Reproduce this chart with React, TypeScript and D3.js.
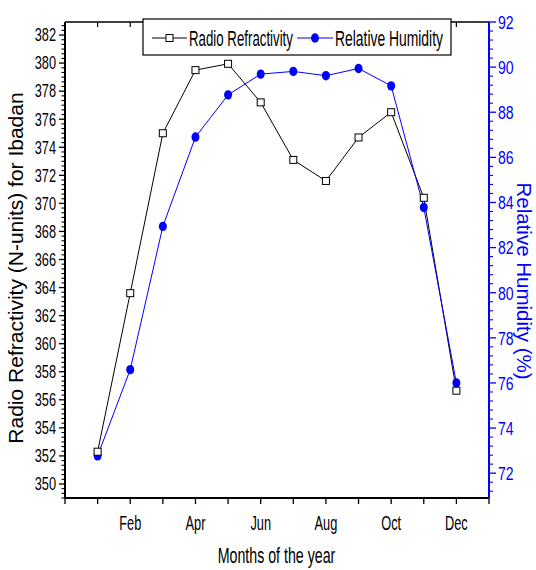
import React from "react";
import * as d3 from "d3";

const months = ["Jan", "Feb", "Mar", "Apr", "May", "Jun", "Jul", "Aug", "Sep", "Oct", "Nov", "Dec"];
const monthIndex = [1, 2, 3, 4, 5, 6, 7, 8, 9, 10, 11, 12];
const refractivity = [352.3, 363.6, 375.0, 379.5, 379.95, 377.2, 373.1, 371.6, 374.7, 376.5, 370.4, 356.65];
const humidity = [72.77, 76.59, 82.94, 86.9, 88.77, 89.69, 89.81, 89.62, 89.94, 89.17, 83.78, 76.0];
const labeledMonths = [2, 4, 6, 8, 10, 12];
const leftTicks = d3.range(350, 383, 2);
const rightTicks = d3.range(72, 93, 2);

const W = 536;
const H = 570;
const L = 65, R = 489, T = 22, B = 498;
const ARIAL = "'Liberation Sans', Arial, sans-serif";
const BLUE = "#0000ff";

function NText(props: any) {
  const { x, y, anchor = "start", size, sx = 1, fill = "#000", children } = props;
  return (
    <text
      transform={`translate(${x},${y}) scale(${sx},1)`}
      textAnchor={anchor}
      fontSize={size}
      fontFamily={ARIAL}
      fill={fill}
    >
      {children}
    </text>
  );
}

export default function App() {
  const x = d3.scaleLinear().domain([0, 13]).range([L, R]);
  const yL = d3.scaleLinear().domain([349, 382.93]).range([B, T]);
  const yR = d3.scaleLinear().domain([70.9, 92]).range([B, T]);

  const lineL = d3.line<number>().x((_, i) => x(monthIndex[i])).y((d) => yL(d));
  const lineR = d3.line<number>().x((_, i) => x(monthIndex[i])).y((d) => yR(d));

  const leftMinor = d3.range(0, 102).map((k) => 349 + k / 3).filter((v) => v <= 382.93 && Math.abs(v - Math.round(v / 2) * 2) > 0.01);
  const rightMinor = d3.range(0, 53).map((k) => 71.2 + k * 0.4).filter((v) => v <= 92 && Math.abs(v - Math.round(v / 2) * 2) > 0.01);
  const xTicks = d3.range(0, 14);

  return (
    <svg width={W} height={H} style={{ position: "absolute", left: 0, top: 0, background: "#fff" }}>
      <rect x={0} y={0} width={W} height={H} fill="#fff" />

      {/* data lines */}
      <path d={lineL(refractivity) || ""} fill="none" stroke="#000" strokeWidth={1} />
      <path d={lineR(humidity) || ""} fill="none" stroke={BLUE} strokeWidth={1} />
      {humidity.map((v, i) => (
        <ellipse key={"h" + i} cx={x(monthIndex[i])} cy={yR(v)} rx={4} ry={4.7} fill={BLUE} />
      ))}
      {refractivity.map((v, i) => (
        <rect key={"r" + i} x={x(monthIndex[i]) - 3.5} y={yL(v) - 3.5} width={7} height={7} fill="#fff" stroke="#000" strokeWidth={1} />
      ))}

      {/* top axis */}
      <line x1={L} x2={R} y1={T} y2={T} stroke="#000" strokeWidth={1.6} />
      {xTicks.map((m) => (
        <line key={"tt" + m} x1={x(m)} x2={x(m)} y1={T} y2={T + 5} stroke="#000" strokeWidth={1.2} />
      ))}

      {/* bottom axis */}
      <line x1={L} x2={R} y1={B} y2={B} stroke="#000" strokeWidth={2} />
      {xTicks.map((m) => (
        <line key={"bt" + m} x1={x(m)} x2={x(m)} y1={B} y2={B + 6} stroke="#000" strokeWidth={1.3} />
      ))}
      {labeledMonths.map((m) => (
        <NText key={"bl" + m} x={x(m)} y={530} anchor="middle" size={20} sx={0.64}>
          {months[m - 1]}
        </NText>
      ))}
      <NText x={276.5} y={563} anchor="middle" size={22} sx={0.646}>
        Months of the year
      </NText>

      {/* left axis */}
      <line x1={L} x2={L} y1={T} y2={B} stroke="#000" strokeWidth={2} />
      {leftTicks.map((v) => (
        <g key={"lt" + v}>
          <line x1={L - 6} x2={L} y1={yL(v)} y2={yL(v)} stroke="#000" strokeWidth={1.3} />
          <NText x={56} y={yL(v) + 6.3} anchor="end" size={18} sx={0.71}>
            {v}
          </NText>
        </g>
      ))}
      {leftMinor.map((v, i) => (
        <line key={"lm" + i} x1={L - 3.5} x2={L} y1={yL(v)} y2={yL(v)} stroke="#000" strokeWidth={1.1} />
      ))}
      <text
        transform={`translate(23,268) rotate(-90)`}
        textAnchor="middle"
        fontSize={21}
        fontFamily={ARIAL}
        fill="#000"
      >
        Radio Refractivity (N-units) for Ibadan
      </text>

      {/* right axis */}
      <line x1={R} x2={R} y1={T} y2={B} stroke={BLUE} strokeWidth={2} />
      {rightTicks.map((v) => (
        <g key={"rt" + v}>
          <line x1={R} x2={R + 7} y1={yR(v)} y2={yR(v)} stroke={BLUE} strokeWidth={1.3} />
          <NText x={498} y={yR(v) + 6.8} anchor="start" size={19} sx={0.74} fill={BLUE}>
            {v}
          </NText>
        </g>
      ))}
      {rightMinor.map((v, i) => (
        <line key={"rm" + i} x1={R} x2={R + 4} y1={yR(v)} y2={yR(v)} stroke={BLUE} strokeWidth={1.1} />
      ))}
      <text
        transform={`translate(517,281) rotate(90)`}
        textAnchor="middle"
        fontSize={20.5}
        fontFamily={ARIAL}
        fill={BLUE}
      >
        Relative Humidity (%)
      </text>

      {/* legend */}
      <rect x={143} y={19} width={308} height={36} fill="#fff" stroke="#000" strokeWidth={1.2} />
      <line x1={152} x2={187} y1={38} y2={38} stroke="#000" strokeWidth={1} />
      <rect x={166} y={34.5} width={7} height={7} fill="#fff" stroke="#000" strokeWidth={1} />
      <NText x={189} y={45.5} size={21.5} sx={0.617}>
        Radio Refractivity
      </NText>
      <line x1={297} x2={333} y1={38} y2={38} stroke={BLUE} strokeWidth={1} />
      <ellipse cx={315} cy={38} rx={4} ry={4.7} fill={BLUE} />
      <NText x={335} y={45.5} size={21.5} sx={0.646}>
        Relative Humidity
      </NText>
    </svg>
  );
}
